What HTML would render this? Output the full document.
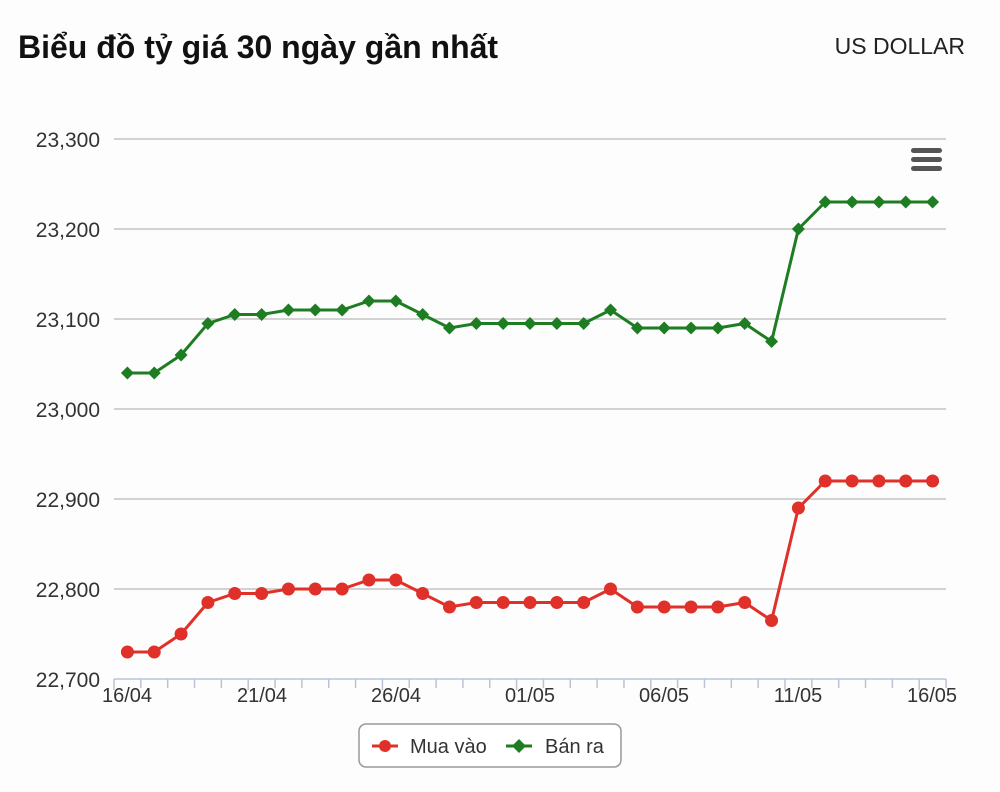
<!DOCTYPE html><html><head><style>body{margin:0;background:#fdfdfd;}svg{display:block}</style></head><body>
<svg width="1000" height="792" xmlns="http://www.w3.org/2000/svg" font-family="Liberation Sans, sans-serif">
<rect width="1000" height="792" fill="#fdfdfd"/>
<text x="18" y="58" font-size="32" font-weight="bold" fill="#111">Biểu đồ tỷ giá 30 ngày gần nhất</text>
<text x="965" y="54" font-size="23" fill="#222" text-anchor="end">US DOLLAR</text>
<g stroke="#c4c4c4" stroke-width="1.5">
<line x1="114" x2="946" y1="139" y2="139"/><line x1="114" x2="946" y1="229" y2="229"/><line x1="114" x2="946" y1="319" y2="319"/><line x1="114" x2="946" y1="409" y2="409"/><line x1="114" x2="946" y1="499" y2="499"/><line x1="114" x2="946" y1="589" y2="589"/>
</g>
<line x1="114" x2="946" y1="679" y2="679" stroke="#b8c4d4" stroke-width="1.5"/>
<g fill="#333" font-size="21" text-anchor="end">
<text x="100" y="147">23,300</text><text x="100" y="237">23,200</text><text x="100" y="327">23,100</text><text x="100" y="417">23,000</text><text x="100" y="507">22,900</text><text x="100" y="597">22,800</text><text x="100" y="687">22,700</text>
</g>
<g id="ticks" stroke="#b8c4d4" stroke-width="1.5"></g>
<g fill="#333" font-size="20" text-anchor="middle">
<text x="127" y="702">16/04</text><text x="262" y="702">21/04</text><text x="396" y="702">26/04</text><text x="530" y="702">01/05</text><text x="664" y="702">06/05</text><text x="798" y="702">11/05</text><text x="932" y="702">16/05</text>
</g>
<g fill="#555"><rect x="911" y="148" width="31" height="5" rx="2.5"/><rect x="911" y="157" width="31" height="5" rx="2.5"/><rect x="911" y="166" width="31" height="5" rx="2.5"/></g>
<g id="series"></g>
<rect x="359" y="724" width="262" height="43" rx="7" fill="#fff" stroke="#999" stroke-width="1.5"/>
<line x1="372" x2="398" y1="746" y2="746" stroke="#e0302a" stroke-width="3"/><circle cx="385" cy="746" r="6" fill="#e0302a"/>
<text x="410" y="753" font-size="20" fill="#333">Mua vào</text>
<line x1="506" x2="532" y1="746" y2="746" stroke="#1e7d22" stroke-width="3"/><path d="M519 739 L526 746 L519 753 L512 746Z" fill="#1e7d22"/>
<text x="545" y="753" font-size="20" fill="#333">Bán ra</text>
</svg>
<script>
var g=[23040,23040,23060,23095,23105,23105,23110,23110,23110,23120,23120,23105,23090,23095,23095,23095,23095,23095,23110,23090,23090,23090,23090,23095,23075,23200,23230,23230,23230,23230,23230];
var r=[22730,22730,22750,22785,22795,22795,22800,22800,22800,22810,22810,22795,22780,22785,22785,22785,22785,22785,22800,22780,22780,22780,22780,22785,22765,22890,22920,22920,22920,22920,22920];
function X(i){return 127.4+i*26.84}function Y(v){return 679-(v-22700)*0.9}
var s='',t='';
for(var i=0;i<=31;i++){var x=114+i*26.84;t+='<line x1="'+x+'" x2="'+x+'" y1="679" y2="'+(i%5==0?690:688)+'"/>';}
document.getElementById('ticks').innerHTML=t;
function pts(a){return a.map(function(v,i){return X(i)+','+Y(v)}).join(' ')}
s+='<polyline points="'+pts(r)+'" fill="none" stroke="#e0302a" stroke-width="3"/>';
s+='<polyline points="'+pts(g)+'" fill="none" stroke="#1e7d22" stroke-width="3"/>';
r.forEach(function(v,i){s+='<circle cx="'+X(i)+'" cy="'+Y(v)+'" r="6.5" fill="#e0302a"/>'});
g.forEach(function(v,i){var x=X(i),y=Y(v);s+='<path d="M'+x+' '+(y-6.5)+' L'+(x+6.5)+' '+y+' L'+x+' '+(y+6.5)+' L'+(x-6.5)+' '+y+'Z" fill="#1e7d22"/>'});
document.getElementById('series').innerHTML=s;
</script>
</body></html>
